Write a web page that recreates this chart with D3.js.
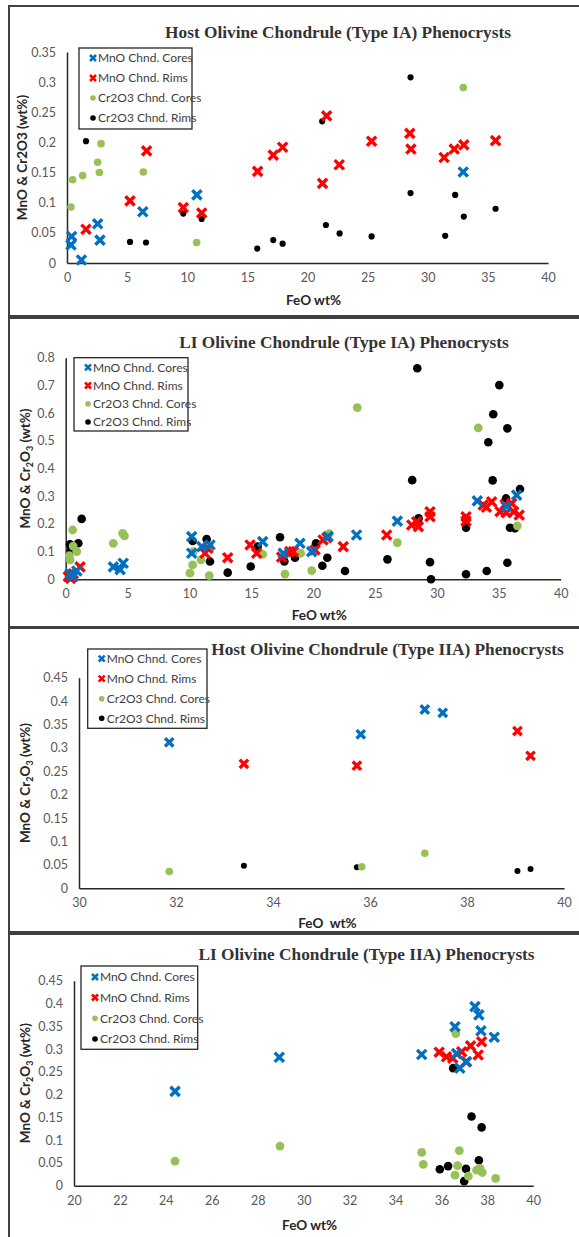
<!DOCTYPE html>
<html>
<head>
<meta charset="utf-8">
<script src="https://cdn.jsdelivr.net/npm/d3@7"></script>
<style>
body { margin: 0; background: #fff; }
svg { display: block; }
</style>
</head>
<body>
<div id="chart"></div>
<script>
// series names (legend)
var seriesNames = ["MnO Chnd. Cores", "MnO Chnd. Rims", "Cr2O3 Chnd. Cores", "Cr2O3 Chnd. Rims"];

// panel titles
var titles = [
  "Host Olivine Chondrule (Type IA) Phenocrysts",
  "LI Olivine Chondrule (Type IA) Phenocrysts",
  "Host Olivine Chondrule (Type IIA) Phenocrysts",
  "LI Olivine Chondrule (Type IIA) Phenocrysts"
];

// tick values
var xTicksA = [0, 5, 10, 15, 20, 25, 30, 35, 40];
var xTicksB = [30, 32, 34, 36, 38, 40];
var xTicksC = [20, 22, 24, 26, 28, 30, 32, 34, 36, 38, 40];
var yTicks1 = [0, 0.05, 0.1, 0.15, 0.2, 0.25, 0.3, 0.35];
var yTicks2 = [0, 0.1, 0.2, 0.3, 0.4, 0.5, 0.6, 0.7, 0.8];
var yTicks3 = [0, 0.05, 0.1, 0.15, 0.2, 0.25, 0.3, 0.35, 0.4, 0.45];

// [FeO wt%, oxide wt%]
var hostIA_mnoCores = [[0.39,0.044],[0.33,0.030],[1.2,0.005],[2.55,0.065],[2.74,0.038],[6.3,0.085],[10.8,0.113],[32.95,0.151]];
var hostIA_mnoRims = [[1.58,0.056],[5.24,0.103],[6.62,0.186],[9.67,0.092],[11.2,0.083],[15.85,0.152],[17.15,0.179],[17.93,0.192],[21.59,0.244],[21.25,0.132],[22.64,0.163],[25.33,0.202],[28.51,0.215],[28.6,0.189],[31.36,0.175],[32.2,0.189],[33.0,0.196],[35.64,0.203]];
var hostIA_crCores = [[0.33,0.093],[0.47,0.138],[1.3,0.145],[2.55,0.167],[2.69,0.150],[2.83,0.198],[6.35,0.151],[10.78,0.034],[32.95,0.291]];
var hostIA_crRims = [[1.58,0.202],[5.24,0.035],[6.57,0.034],[9.67,0.082],[11.2,0.073],[15.82,0.024],[17.15,0.038],[17.93,0.032],[28.57,0.308],[21.22,0.235],[21.53,0.063],[22.67,0.049],[25.33,0.044],[28.57,0.116],[32.28,0.113],[31.45,0.045],[33.0,0.077],[35.64,0.090]];

var liIA_mnoCores = [[0.35,0.02],[0.6,0.01],[0.9,0.03],[3.85,0.045],[4.4,0.035],[4.65,0.058],[10.18,0.154],[10.18,0.094],[11.0,0.118],[11.66,0.124],[15.92,0.136],[17.58,0.094],[18.93,0.13],[19.88,0.10],[21.2,0.154],[23.5,0.16],[26.8,0.21],[33.26,0.283],[35.6,0.262],[36.44,0.304]];
var liIA_mnoRims = [[0.21,0.01],[0.4,0.003],[0.62,0.02],[1.16,0.045],[11.26,0.094],[11.5,0.112],[13.09,0.078],[14.9,0.124],[15.43,0.094],[17.45,0.08],[18.1,0.10],[18.4,0.1],[20.15,0.106],[20.8,0.142],[21.1,0.15],[22.43,0.118],[25.94,0.16],[27.96,0.196],[28.36,0.208],[28.5,0.19],[29.44,0.244],[29.44,0.226],[32.35,0.226],[32.35,0.21],[33.74,0.268],[34.0,0.26],[34.42,0.28],[35.1,0.244],[35.5,0.27],[35.6,0.24],[36.04,0.274],[36.2,0.244],[36.65,0.232]];
var liIA_crCores = [[0.3,0.085],[0.35,0.07],[0.56,0.178],[0.6,0.12],[0.89,0.1],[3.85,0.13],[4.6,0.166],[4.75,0.157],[10.04,0.022],[10.26,0.052],[10.31,0.1],[10.93,0.07],[11.6,0.013],[15.92,0.09],[17.72,0.019],[18.99,0.094],[19.88,0.031],[21.3,0.165],[23.56,0.62],[26.8,0.132],[33.34,0.547],[36.5,0.193]];
var liIA_crRims = [[0.35,0.126],[0.43,0.106],[1.02,0.13],[1.29,0.218],[10.26,0.138],[11.39,0.145],[11.66,0.064],[13.09,0.024],[14.95,0.046],[15.51,0.118],[17.32,0.152],[17.67,0.064],[18.53,0.078],[20.23,0.13],[20.74,0.049],[21.14,0.078],[22.57,0.03],[26.0,0.072],[28.0,0.358],[28.41,0.762],[28.52,0.22],[29.44,0.062],[29.52,0.0],[32.35,0.186],[32.35,0.018],[34.02,0.03],[34.15,0.495],[34.55,0.596],[34.5,0.357],[35.04,0.701],[35.58,0.292],[35.69,0.545],[35.69,0.06],[35.9,0.186],[36.3,0.184],[36.71,0.326]];

var hostIIA_mnoCores = [[31.86,0.312],[35.81,0.329],[37.13,0.382],[37.5,0.375]];
var hostIIA_mnoRims = [[33.4,0.266],[35.73,0.262],[39.04,0.336],[39.31,0.283]];
var hostIIA_crCores = [[31.86,0.036],[35.83,0.046],[37.13,0.075]];
var hostIIA_crRims = [[33.4,0.048],[35.73,0.045],[39.04,0.037],[39.31,0.041]];

var liIIA_mnoCores = [[24.4,0.207],[28.94,0.282],[35.14,0.288],[36.59,0.349],[36.66,0.29],[36.8,0.258],[37.1,0.272],[37.46,0.393],[37.63,0.375],[37.72,0.34],[38.3,0.326]];
var liIIA_mnoRims = [[35.9,0.293],[36.22,0.283],[36.49,0.28],[36.88,0.294],[37.07,0.272],[37.27,0.307],[37.6,0.287],[37.75,0.316]];
var liIIA_crCores = [[24.4,0.054],[28.97,0.087],[36.63,0.334],[35.14,0.073],[35.21,0.047],[36.78,0.077],[36.7,0.044],[36.59,0.023],[37.17,0.021],[37.53,0.034],[37.68,0.038],[37.78,0.029],[38.36,0.016]];
var liIIA_crRims = [[36.51,0.258],[37.31,0.152],[37.75,0.128],[37.63,0.056],[35.93,0.036],[36.29,0.043],[37.07,0.037],[36.99,0.01]];

var colors = ["#0070C0", "#FF0000", "#97C157", "#000000"];

var W = 579, H = 1237;
var svg = d3.select("#chart").append("svg").attr("width", W).attr("height", H);

// layout of each panel (pixels)
var panels = [
  {frame: [9, 6, 580, 310], plot: [67, 52, 548, 263], xd: [0, 40], yd: [0, 0.35], xt: xTicksA, yt: yTicks1,
   title: titles[0], tx: 338, ty: 32, leg: [79, 48, 113, 81], legY: [58, 78, 98, 118], xlab: "FeO wt%", xly: 300,
   ylx: 22, sub: false, series: [hostIA_mnoCores, hostIA_mnoRims, hostIA_crCores, hostIA_crRims], xs: 4.6, rG: 3.8, rB: 3.1},
  {frame: [9, 318, 580, 309], plot: [65.7, 357.7, 560.7, 579.3], xd: [0, 40], yd: [0, 0.8], xt: xTicksA, yt: yTicks2,
   title: titles[1], tx: 344, ty: 342, leg: [74, 357.7, 114, 73.3], legY: [367.3, 385.5, 403.7, 422], xlab: "FeO wt%", xly: 615,
   ylx: 25, sub: true, series: [liIA_mnoCores, liIA_mnoRims, liIA_crCores, liIA_crRims], xs: 4.6, rG: 4.4, rB: 4.3},
  {frame: [9, 628, 580, 304], plot: [79, 677.7, 564, 888.3], xd: [30, 40], yd: [0, 0.45], xt: xTicksB, yt: yTicks3,
   title: titles[2], tx: 387.5, ty: 648.5, leg: [87.7, 649, 119.3, 79.3], legY: [658.7, 678.7, 698.7, 718.3], xlab: "FeO\u00a0 wt%", xly: 923,
   ylx: 25, sub: true, series: [hostIIA_mnoCores, hostIIA_mnoRims, hostIIA_crCores, hostIIA_crRims], xs: 4.2, rG: 3.8, rB: 3.0},
  {frame: [9, 934, 580, 320], plot: [74, 980.7, 533.3, 1185.7], xd: [20, 40], yd: [0, 0.45], xt: xTicksC, yt: yTicks3,
   title: titles[3], tx: 366.5, ty: 954, leg: [81, 966, 116.7, 83.3], legY: [977, 997.5, 1018.3, 1039], xlab: "FeO wt%", xly: 1225,
   ylx: 25, sub: true, series: [liIIA_mnoCores, liIIA_mnoRims, liIIA_crCores, liIIA_crRims], xs: 4.6, rG: 4.4, rB: 4.3}
];

function crossPath(s) {
  return "M" + (-s) + "," + (-s) + "L" + s + "," + s + "M" + (-s) + "," + s + "L" + s + "," + (-s);
}

function fmt(v) { return String(+v.toFixed(2)); }

panels.forEach(function(p) {
  var g = svg.append("g");

  g.append("rect")
    .attr("x", p.frame[0]).attr("y", p.frame[1])
    .attr("width", p.frame[2]).attr("height", p.frame[3])
    .attr("fill", "none").attr("stroke", "#404040").attr("stroke-width", 2);

  var x = d3.scaleLinear().domain(p.xd).range([p.plot[0], p.plot[2]]);
  var y = d3.scaleLinear().domain(p.yd).range([p.plot[3], p.plot[1]]);

  // axes
  var ax = g.append("g")
    .attr("transform", "translate(0," + p.plot[3] + ")")
    .call(d3.axisBottom(x).tickValues(p.xt).tickSize(0).tickPadding(10).tickFormat(fmt));
  var ay = g.append("g")
    .attr("transform", "translate(" + p.plot[0] + ",0)")
    .call(d3.axisLeft(y).tickValues(p.yt).tickSize(0).tickPadding(11).tickFormat(fmt));
  [ax, ay].forEach(function(a) {
    a.select(".domain").attr("stroke", "#262626").attr("stroke-width", 1.5);
    a.selectAll("text").attr("fill", "#595959").style("font-family", "Lato, 'Noto Sans', sans-serif").style("font-size", "12.5px");
  });

  // title
  g.append("text")
    .attr("x", p.tx).attr("y", p.ty).attr("dy", "0.35em")
    .attr("text-anchor", "middle")
    .style("font-family", "'Liberation Serif', serif").style("font-weight", "bold").style("font-size", "17.3px")
    .attr("fill", "#333")
    .text(p.title);

  // x label
  g.append("text")
    .attr("x", (p.plot[0] + p.plot[2]) / 2 + 6).attr("y", p.xly).attr("dy", "0.35em")
    .attr("text-anchor", "middle")
    .style("font-family", "Lato, sans-serif").style("font-weight", "bold").style("font-size", "13.5px")
    .attr("fill", "#262626")
    .text(p.xlab);

  // y label
  var yl = g.append("text")
    .attr("transform", "translate(" + p.ylx + "," + ((p.plot[1] + p.plot[3]) / 2) + ") rotate(-90)")
    .attr("text-anchor", "middle").attr("dy", "0.35em")
    .style("font-family", "Lato, sans-serif").style("font-weight", "bold").style("font-size", "13.5px")
    .attr("fill", "#262626");
  if (p.sub) {
    yl.append("tspan").text("MnO & Cr");
    yl.append("tspan").attr("dy", 3).style("font-size", "9px").text("2");
    yl.append("tspan").attr("dy", -3).text("O");
    yl.append("tspan").attr("dy", 3).style("font-size", "9px").text("3");
    yl.append("tspan").attr("dy", -3).text(" (wt%)");
  } else {
    yl.text("MnO & Cr2O3 (wt%)");
  }

  // points: circles first, crosses on top
  var order = [3, 2, 1, 0];
  order.forEach(function(i) {
    var data = p.series[i];
    if (i >= 2) {
      g.selectAll(".pt" + i).data(data).enter().append("circle")
        .attr("cx", function(d) { return x(d[0]); })
        .attr("cy", function(d) { return y(d[1]); })
        .attr("r", i == 2 ? p.rG : p.rB)
        .attr("fill", colors[i]);
    } else {
      g.selectAll(".pt" + i).data(data).enter().append("path")
        .attr("transform", function(d) { return "translate(" + x(d[0]) + "," + y(d[1]) + ")"; })
        .attr("d", crossPath(p.xs))
        .attr("stroke", colors[i]).attr("stroke-width", 3.4).attr("fill", "none");
    }
  });

  // legend
  var lg = g.append("g");
  lg.append("rect")
    .attr("x", p.leg[0]).attr("y", p.leg[1]).attr("width", p.leg[2]).attr("height", p.leg[3])
    .attr("fill", "#fff").attr("stroke", "#262626").attr("stroke-width", 1.3);
  seriesNames.forEach(function(name, i) {
    var cx = p.leg[0] + 14, cy = p.legY[i];
    if (i < 2) {
      lg.append("path").attr("transform", "translate(" + cx + "," + cy + ")")
        .attr("d", crossPath(3)).attr("stroke", colors[i]).attr("stroke-width", 2.6);
    } else {
      lg.append("circle").attr("cx", cx).attr("cy", cy).attr("r", 2.8).attr("fill", colors[i]);
    }
    lg.append("text").attr("x", cx + 5).attr("y", cy).attr("dy", "0.35em")
      .style("font-family", "Lato, sans-serif").style("font-size", "12px").attr("fill", "#404040")
      .text(name);
  });
});
</script>
</body>
</html>
